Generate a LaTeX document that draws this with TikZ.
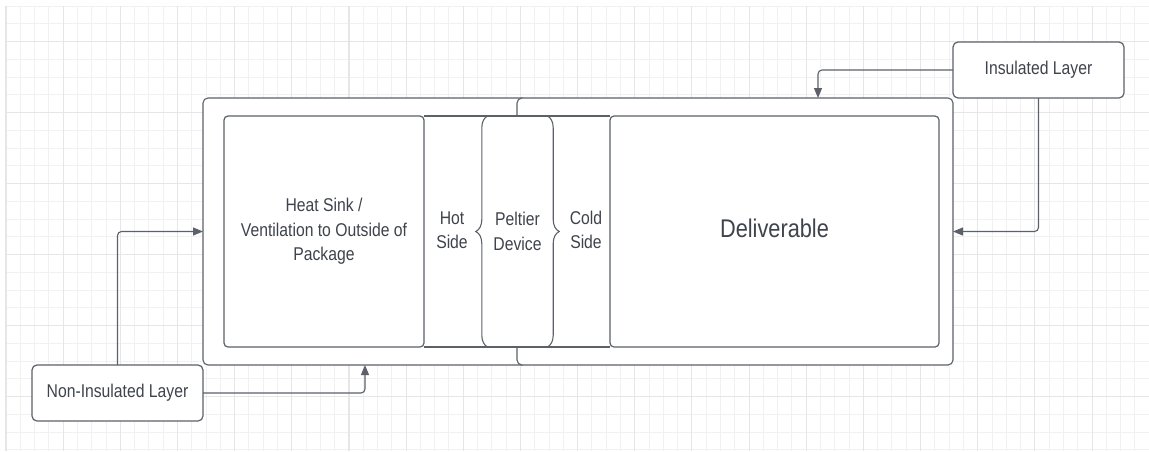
\documentclass[tikz,border=0pt]{standalone}
\usepackage{fontspec}
\setmainfont{Liberation Sans}[FakeStretch=0.85]
\usetikzlibrary{arrows.meta, positioning, decorations.pathreplacing}
\definecolor{gridminor}{RGB}{241,241,241}
\definecolor{gridmajor}{RGB}{230,230,230}
\definecolor{edgegray}{RGB}{92,97,105}
\definecolor{txtgray}{RGB}{62,67,76}

\begin{document}
\begin{tikzpicture}[
  x=1pt, y=-1pt,
  shell/.style={draw=edgegray, fill=white, rounded corners=5pt, line width=1.1pt, inner sep=0pt, outer sep=0pt},
  part/.style={draw=edgegray, fill=white, rounded corners=4pt, line width=1.2pt, inner sep=0pt, outer sep=0pt, text=txtgray, align=center, font=\fontsize{18.5}{24.5}\selectfont},
  lbl/.style={text=txtgray, align=center, inner sep=0pt, font=\fontsize{18.5}{24.5}\selectfont},
  flow/.style={draw=edgegray, line width=1.1pt, rounded corners=4pt, -{Triangle[length=10pt, width=8pt]}},
  curl/.style={draw=edgegray, line width=1.1pt, decorate, decoration={brace, amplitude=12pt}}
]
  \useasboundingbox[fill=white] (0,0) rectangle (1149,451);
  \foreach \k in {0,...,80} {
    \draw[gridminor, line width=1pt] ({6+14.29*\k},6) -- ({6+14.29*\k},451);
  }
  \foreach \k in {0,...,25} {
    \draw[gridminor, line width=1pt] (6,{6+17.75*\k}) -- (1149,{6+17.75*\k});
  }
  \foreach \k in {0,4,...,80} {
    \draw[gridmajor, line width=1.1pt] ({6+14.29*\k},6) -- ({6+14.29*\k},451);
  }
  \foreach \k in {2,6,...,22} {
    \draw[gridmajor, line width=1.1pt] (6,{6+17.75*\k}) -- (1149,{6+17.75*\k});
  }

  \node[shell, minimum width=324pt, minimum height=267pt] (outerL) at (365,231.5) {};
  \node[shell, minimum width=436pt, minimum height=267pt] (outerR) at (735,231.5) {};
  \node[fill=white, inner sep=0pt, outer sep=0pt, minimum width=186pt, minimum height=231pt] (sides) at (517,231.5) {};
  \draw[edgegray, line width=1.2pt] (sides.north west) -- (sides.north east) (sides.south west) -- (sides.south east);
  \node[part, minimum width=200pt, minimum height=231pt] (sink) at (324,231.5) {Heat Sink /\\Ventilation to Outside of\\Package};
  \node[part, minimum width=329pt, minimum height=231pt, font=\fontsize{25.6}{30}\selectfont] (deliv) at (774.5,231.5) {\raisebox{6pt}{Deliverable}};
  \node[lbl] (hot) at (452,230) {Hot\\Side};
  \node[lbl, minimum width=71pt, minimum height=231pt] (peltier) at (517.5,231.5) {Peltier\\Device};
  \node[lbl] (cold) at (586,230) {Cold\\Side};
  \draw[curl] ([xshift=6pt]peltier.south west) -- ([xshift=6pt]peltier.north west);
  \draw[curl] ([xshift=-6pt]peltier.north east) -- ([xshift=-6pt]peltier.south east);

  \node[part, rounded corners=5pt, minimum width=171pt, minimum height=56pt] (nonins) at (117.5,393) {Non-Insulated Layer};
  \node[part, rounded corners=5pt, minimum width=171pt, minimum height=56pt] (ins) at (1038.5,70) {Insulated Layer};

  \draw[flow] (nonins.north) |- (outerL.west);
  \draw[flow] (nonins.east) -| (outerL.south);
  \draw[flow] (ins.west) -| ([xshift=83pt]outerR.north);
  \draw[flow] (ins.south) |- (outerR.east);
\end{tikzpicture}
\end{document}
